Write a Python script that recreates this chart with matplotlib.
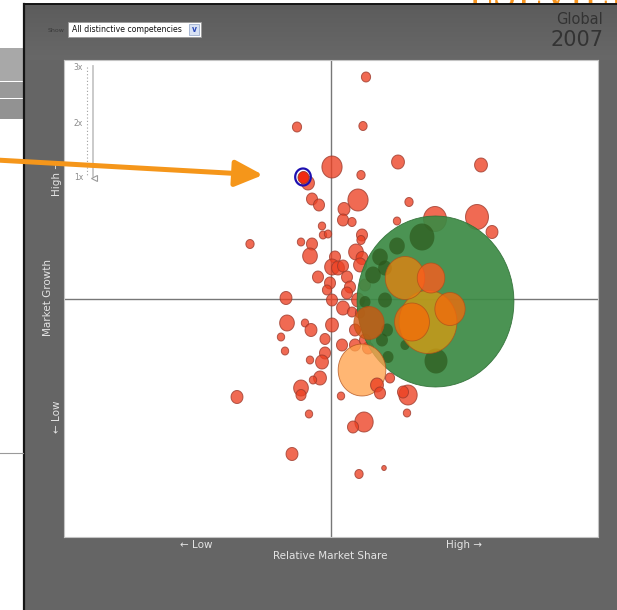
import numpy as np
import matplotlib
matplotlib.use("Agg")
import matplotlib.pyplot as plt
from matplotlib.path import Path
from matplotlib.patches import Rectangle
from matplotlib.colors import LinearSegmentedColormap

# ---------------------------------------------------------------------------
#  Bubble data: relative market share (x), market growth (y), bubble size
# ---------------------------------------------------------------------------
red_share = [35, -34, 32, 1, 30, 67, 150, 78, 27, -23, -19, -12, 13, 12, 21, 66,
             -9, -8, -3, 31, 30, -30, -81, -19, -21, 25, 31, 4, 1, 7, 12, -13,
             -1, 16, 19, -4, -45, 1, 16, 12, 21, -44, -26, -20, -50, 1, -6, -46,
             11, 24, -21, -6, -9, -11, -18, -30, -30, 10, -22, 33, 22, 76, -94,
             -39, 28, 53, 77, 72, 104, 146, 161, 37, 29,
             29, 34, 24, 34, 27]
red_growth = [222, 172, 173, 132, 124, 137, 134, 97, 99, 116, 100, 94, 90, 79, 77, 78,
              73, 64, 65, 64, 59, 57, 55, 55, 43, 47, 41, 42, 32, 31, 33, 22,
              16, 22, 12, 9, 1, -1, 6, -9, -13, -24, -24, -31, -38, -26, -40, -52,
              -46, -46, -61, -54, -63, -79, -81, -89, -96, -97, -115, -123, -128, -114, -98,
              -155, -175, -169, -96, -93, 80, 82, 67, -49, -14,
              34, 14, -31, -41, -1]
red_size = [10, 10, 9, 22, 9, 14, 14, 9, 22, 14, 12, 12, 13, 12, 9, 8,
            8, 8, 8, 12, 9, 8, 9, 12, 16, 16, 13, 12, 16, 14, 12, 12,
            12, 12, 12, 10, 13, 12, 12, 14, 10, 16, 8, 13, 8, 14, 11, 8,
            12, 12, 8, 12, 14, 14, 8, 16, 11, 8, 8, 20, 12, 8, 13,
            13, 9, 5, 20, 12, 25, 25, 13, 12, 10,
            14, 12, 12, 12, 14]

front_share = [46, 49, 59]
front_growth = [-86, -94, -79]
front_size = [14, 12, 10]

leader_share = [104]
leader_growth = [-2]
leader_size = [171]

dkgreen_share = [91, 66, 49, 42, 54, 34, 54, 56, 51, 74, 105, 57]
dkgreen_growth = [62, 53, 42, 24, 31, -3, -1, -31, -41, -46, -62, -58]
dkgreen_size = [27, 17, 17, 17, 15, 12, 15, 13, 13, 10, 25, 12]

orange_share = [97, 74, 100, 81, 119, 38, 31]
orange_growth = [-23, 21, 21, -23, -10, -24, -71]
orange_size = [63, 43, 30, 38, 33, 33, 52]
orange_cols = ["#d59a12", "#e5820f", "#ff5a1c", "#f56c08", "#f26a0c", "#d0560e", "#ffa24c"]

selected_share = [-28]
selected_growth = [122]
selected_size = [12]

# ---------------------------------------------------------------------------
#  Figure
# ---------------------------------------------------------------------------
W, H = 617, 610
PT = 0.72  # points per pixel at dpi 100

t = np.linspace(0, 2 * np.pi, 73)
oval = Path(np.c_[np.cos(t), 1.09 * np.sin(t)], closed=True)


def s_of(d):
    return (np.asarray(d, float) * PT) ** 2


fig = plt.figure(figsize=(W / 100, H / 100), dpi=100, facecolor="white")

# background chrome
bg = fig.add_axes([0, 0, 1, 1], zorder=0)
bg.set_axis_off()
# logo text above the panel, only its lower edge shows
bg.text(468, 6, "LSEVIER", fontsize=26, color="#f7941d", family="DejaVu Serif",
        va="baseline", ha="left", zorder=0.5)
bg.add_patch(Rectangle((24, 4), 593, 606, fc="#656565", ec="none", zorder=1))
hdr = LinearSegmentedColormap.from_list("hdr", ["#5c5c5c", "#686868"])
bg.imshow(np.linspace(0, 1, 60)[:, None], extent=(24, 617, 60, 4), cmap=hdr,
          aspect="auto", origin="upper", zorder=1.2)
bg.plot([24, 24], [4, 610], color="#151515", lw=1.6, zorder=2)
bg.plot([24, 617], [4, 4], color="#151515", lw=1.4, zorder=2)
bg.add_patch(Rectangle((0, 48), 23, 33, fc="#a8a8a8", ec="none", zorder=1))
bg.add_patch(Rectangle((0, 82), 23, 16, fc="#999999", ec="none", zorder=1))
bg.add_patch(Rectangle((0, 99), 23, 20, fc="#929292", ec="none", zorder=1))
bg.plot([0, 23], [453, 453], color="#9a9a9a", lw=0.8)
bg.set_xlim(0, W)
bg.set_ylim(H, 0)

# main bubble plot
ax = fig.add_axes([64 / W, (H - 537) / H, 534 / W, 477 / H], zorder=1)
ax.set_facecolor("white")
ax.set_xlim(-267, 267)
ax.set_ylim(-238, 239)
ax.set_xticks([])
ax.set_yticks([])
for sp in ax.spines.values():
    sp.set_color("#c4c4c4")
    sp.set_linewidth(0.8)
ax.axvline(0, color="#777777", lw=1.0, zorder=1)
ax.axhline(0, color="#777777", lw=1.0, zorder=1)

ax.scatter(red_share, red_growth, s=s_of(red_size), marker=oval, c="#ec4022",
           alpha=0.78, edgecolors="#9c3a2c", linewidths=0.7, zorder=2)
ax.scatter(leader_share, leader_growth, s=s_of(leader_size), marker=oval,
           c="#3c8a44", alpha=0.92, edgecolors="#2f6f36", linewidths=0.6, zorder=3)
ax.scatter(dkgreen_share, dkgreen_growth, s=s_of(dkgreen_size), marker=oval,
           c="#2a5418", alpha=0.65, edgecolors="none", zorder=4)
ax.scatter(orange_share, orange_growth, s=s_of(orange_size), marker=oval,
           c=orange_cols, alpha=0.78, edgecolors="#b0501a", linewidths=0.6, zorder=5)
ax.scatter(front_share, front_growth, s=s_of(front_size), marker=oval, c="#ec4022",
           alpha=0.8, edgecolors="#9c3a2c", linewidths=0.7, zorder=6)
ax.scatter(selected_share, selected_growth, s=s_of(selected_size), marker=oval,
           c="#f22a10", edgecolors="#9c3a2c", linewidths=0.6, zorder=7)
ax.scatter(selected_share, selected_growth, s=s_of(np.asarray(selected_size) + 5),
           marker=oval, facecolors="none", edgecolors="#1e10b0", linewidths=1.6, zorder=8)

# overlay: labels, controls, annotation arrow
ov = fig.add_axes([0, 0, 1, 1], zorder=2)
ov.set_axis_off()
ov.patch.set_alpha(0)
ov.set_xlim(0, W)
ov.set_ylim(H, 0)

ov.text(603, 19, "Global", fontsize=10.5, color="#333333", ha="right", va="center")
ov.text(603, 40, "2007", fontsize=15, color="#333333", ha="right", va="center")

ov.text(64, 30, "Show", fontsize=4.5, color="#3a3a3a", ha="right", va="center")
ov.add_patch(Rectangle((68, 22), 133, 15, fc="white", ec="#9a9a9a", lw=0.6))
ov.text(72, 30, "All distinctive competencies", fontsize=5.6, color="#111111",
        ha="left", va="center")
ov.add_patch(Rectangle((189, 24), 10, 11, fc="#d8e2f4", ec="#8fa3c8", lw=0.5))
ov.text(194, 29.5, "v", fontsize=5.5, color="#2a48b8", ha="center", va="center",
        fontweight="bold")

for lab, yy in [("3x", 68), ("2x", 123), ("1x", 177)]:
    ov.text(83, yy, lab, fontsize=5.5, color="#8a8a8a", ha="right", va="center")
ov.plot([87, 87], [67, 177], color="#a0a0a0", lw=0.8, ls=(0, (1, 2)))
ov.plot([93, 93], [66, 176], color="#c6c6c6", lw=1.3)
ov.plot([94], [178], marker="<", ms=5, mfc="none", mec="#9a9a9a", mew=0.8)

tc = "#e4e4e4"
ov.text(48, 298, "Market Growth", fontsize=7.5, color=tc, rotation=90,
        ha="center", va="center")
ov.text(57, 178, "High \u2192", fontsize=7.5, color=tc, rotation=90,
        ha="center", va="center")
ov.text(57, 417, "\u2190 Low", fontsize=7.5, color=tc, rotation=90,
        ha="center", va="center")
ov.text(196, 545, "\u2190 Low", fontsize=7.5, color=tc, ha="center", va="center")
ov.text(464, 545, "High \u2192", fontsize=7.5, color=tc, ha="center", va="center")
ov.text(330, 556, "Relative Market Share", fontsize=7.5, color=tc,
        ha="center", va="center")

ov.annotate("", xy=(263, 175), xytext=(-4, 160),
            arrowprops=dict(arrowstyle="-|>,head_length=1.7,head_width=0.8",
                            lw=3.6, color="#f5961a", mutation_scale=10,
                            shrinkA=0, shrinkB=0))

fig.savefig("out.png", dpi=100, facecolor="white")
